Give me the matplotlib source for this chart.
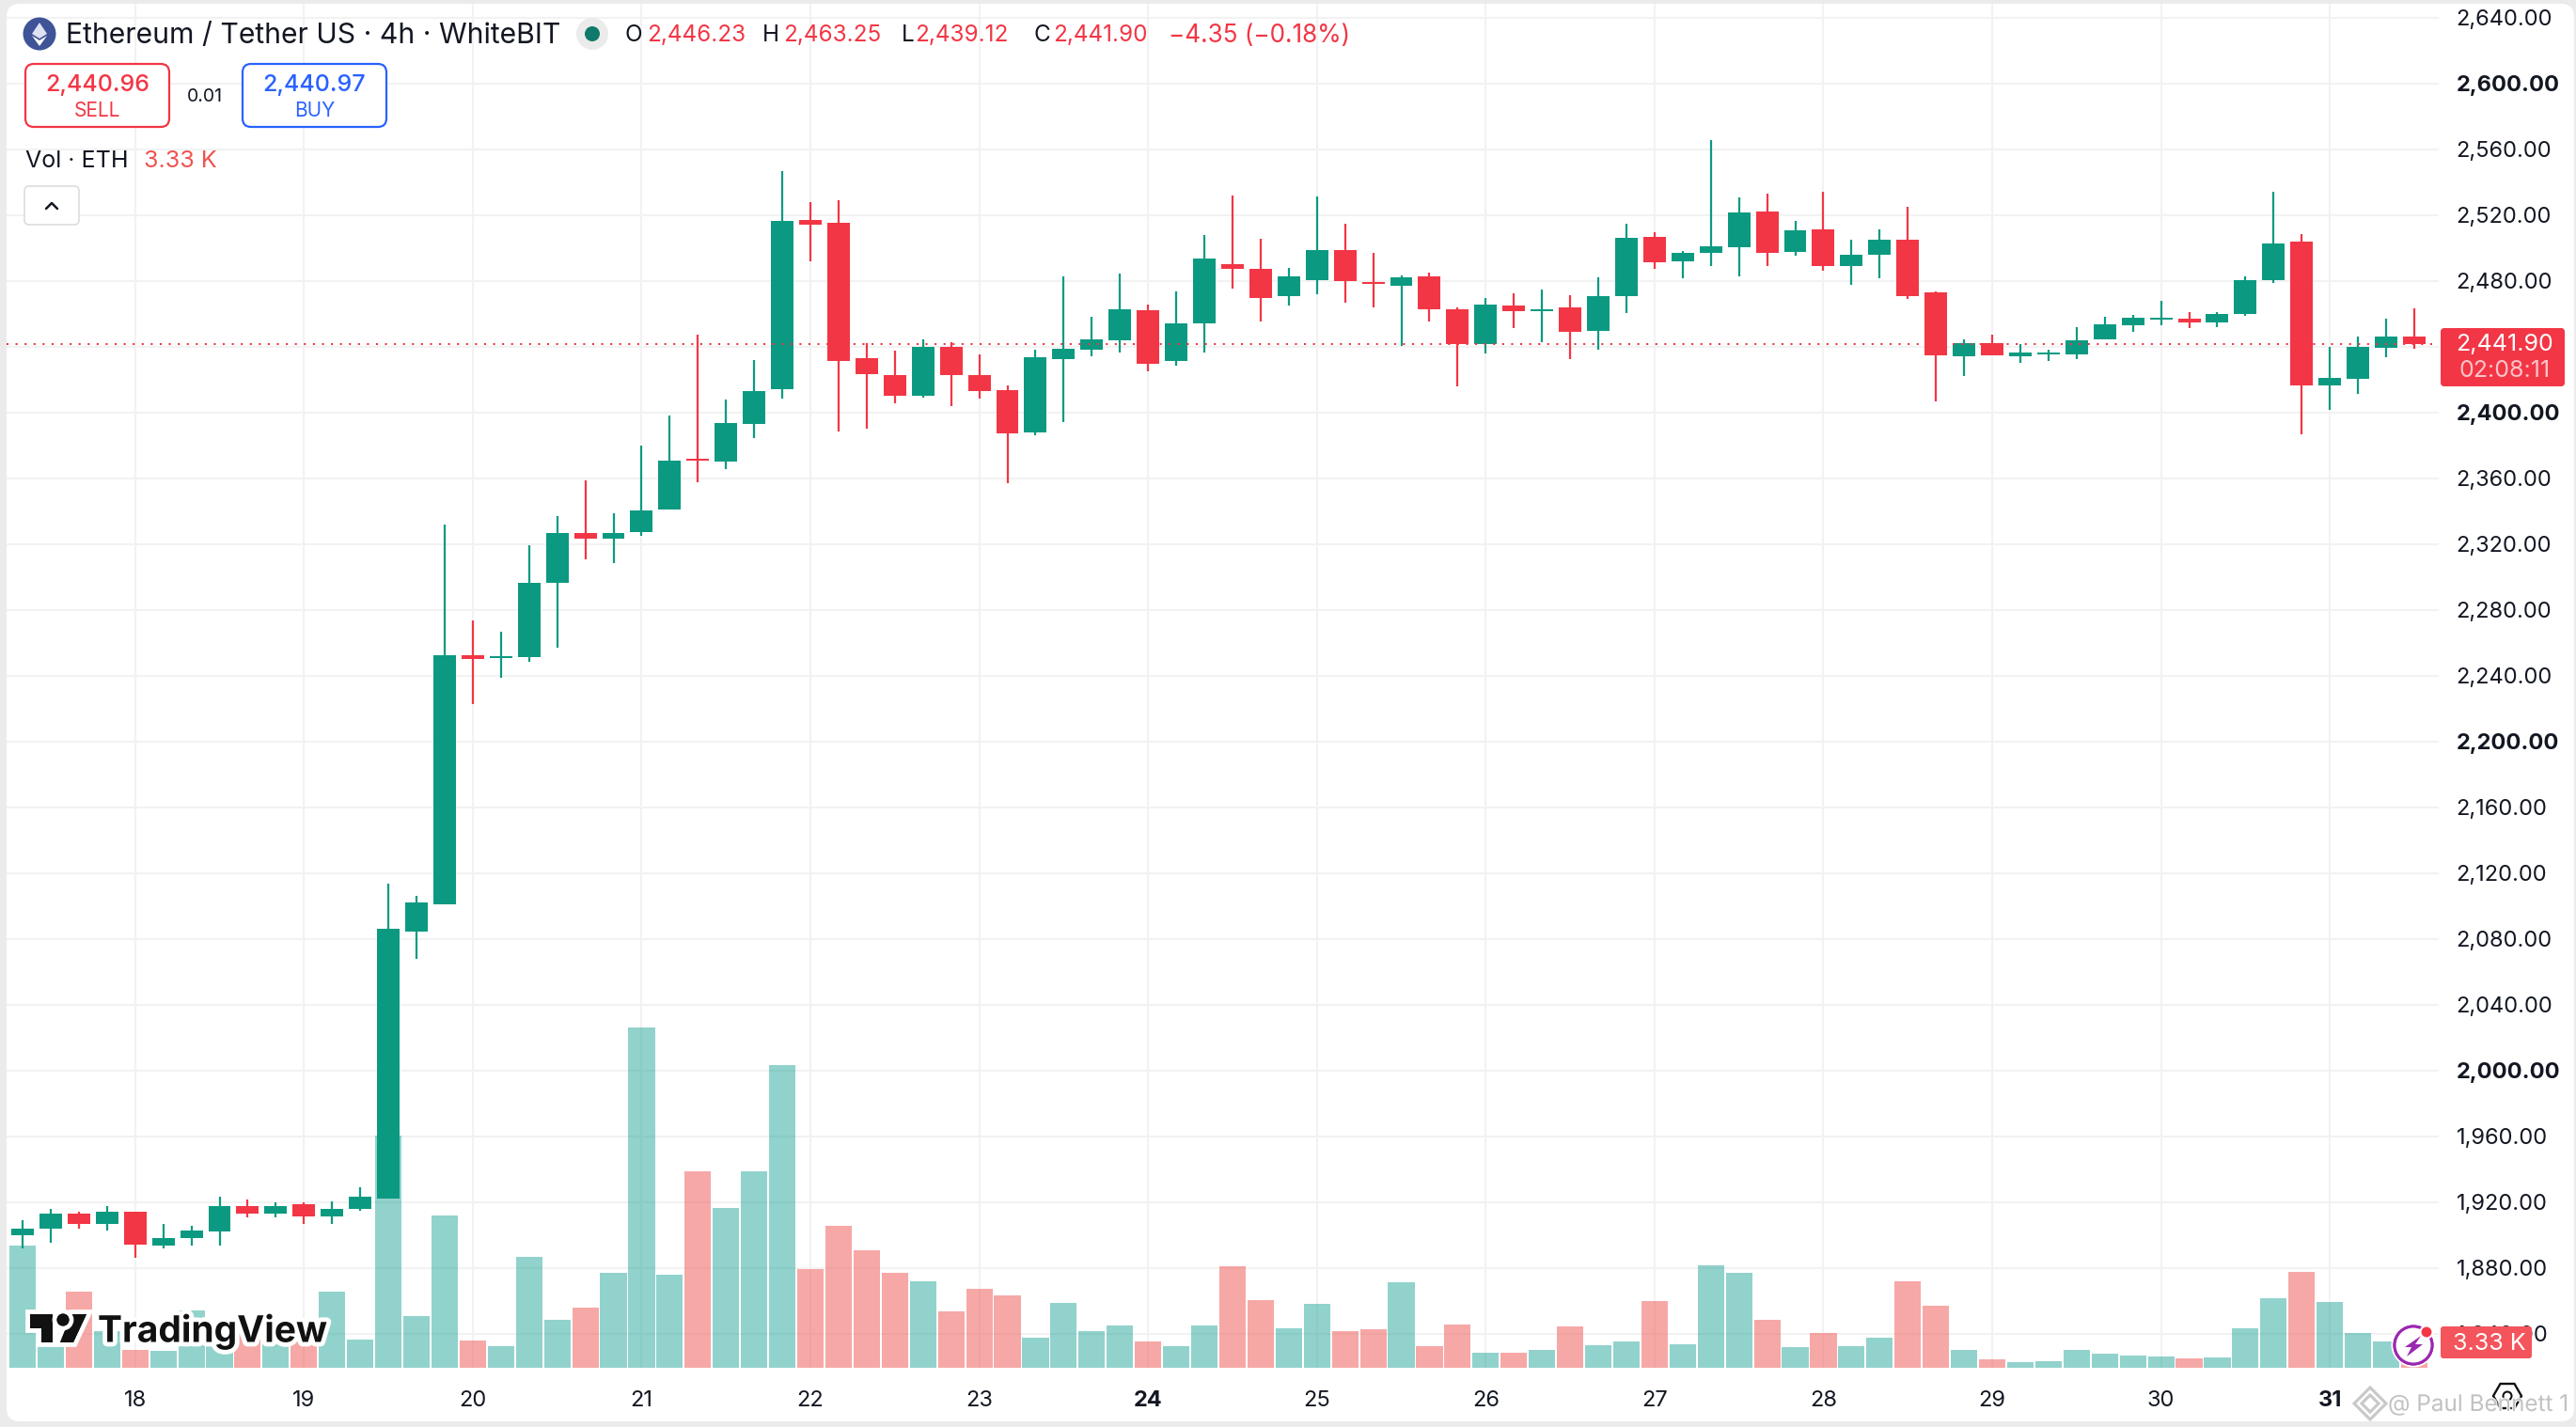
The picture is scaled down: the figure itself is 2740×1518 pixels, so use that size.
import numpy as np
import matplotlib
matplotlib.use("Agg")
import matplotlib.pyplot as plt
import matplotlib.patheffects as pe
from matplotlib.patches import Circle, FancyBboxPatch, Polygon, RegularPolygon

plt.rcParams["font.family"] = ["Inter", "DejaVu Sans"]

# 4h candles, left to right
opens = [1900.2, 1903.7, 1913.3, 1907.0, 1914.0, 1893.9, 1898.0, 1902.4, 1917.9, 1912.9, 1918.6, 1911.6, 1915.7, 1922.5,
         2084.8, 2101.4, 2252.6, 2250.9, 2251.4, 2296.6, 2326.9, 2323.4, 2327.4, 2341.1, 2372.0, 2370.3, 2393.1, 2414.3,
         2517.1, 2515.4, 2433.1, 2422.9, 2410.3, 2440.0, 2422.9, 2413.7, 2388.0, 2432.6, 2438.3, 2444.0, 2462.3, 2431.4,
         2454.3, 2490.3, 2487.4, 2470.9, 2480.6, 2498.9, 2479.4, 2477.1, 2482.9, 2462.9, 2441.7, 2465.1, 2461.7, 2464.0,
         2449.7, 2470.9, 2506.9, 2492.0, 2497.1, 2500.6, 2522.3, 2497.7, 2511.4, 2489.1, 2496.0, 2505.1, 2473.1, 2434.3,
         2442.3, 2434.3, 2435.4, 2435.4, 2444.6, 2453.1, 2456.6, 2457.1, 2454.9, 2460.0, 2480.6, 2504.0, 2416.6, 2420.6,
         2439.4, 2446.23]
closes = [1903.7, 1913.3, 1907.0, 1914.0, 1894.5, 1898.5, 1903.1, 1917.9, 1912.9, 1917.9, 1911.6, 1916.2, 1923.2, 2086.5,
          2102.5, 2252.6, 2250.3, 2252.0, 2296.6, 2326.9, 2323.4, 2326.9, 2340.6, 2370.9, 2370.9, 2393.7, 2413.1, 2516.6,
          2514.3, 2431.4, 2423.4, 2410.3, 2440.0, 2422.9, 2413.1, 2387.4, 2433.7, 2438.9, 2444.6, 2462.9, 2429.7, 2454.3,
          2493.7, 2487.4, 2469.7, 2482.9, 2498.9, 2480.0, 2478.3, 2482.3, 2462.9, 2441.7, 2465.7, 2461.7, 2462.9, 2449.1,
          2470.9, 2506.3, 2491.4, 2497.1, 2501.1, 2521.7, 2497.1, 2510.9, 2489.1, 2496.0, 2505.1, 2470.9, 2434.9, 2442.3,
          2434.9, 2436.6, 2436.6, 2444.0, 2453.7, 2457.7, 2457.7, 2454.9, 2460.0, 2480.6, 2502.9, 2416.6, 2421.1, 2440.0,
          2446.3, 2441.90]
highs = [1909.4, 1915.7, 1914.2, 1917.9, 1914.4, 1907.0, 1905.9, 1923.2, 1921.9, 1919.9, 1919.7, 1920.8, 1929.3, 2113.9,
         2106.4, 2332.0, 2273.7, 2266.9, 2319.4, 2337.1, 2358.9, 2338.9, 2380.0, 2398.3, 2447.4, 2408.0, 2432.0, 2546.9,
         2528.0, 2529.1, 2442.3, 2437.7, 2444.6, 2442.9, 2435.4, 2416.6, 2438.3, 2482.9, 2458.3, 2484.6, 2465.7, 2473.7,
         2508.0, 2532.0, 2505.7, 2488.0, 2531.4, 2514.9, 2497.1, 2483.4, 2485.1, 2464.0, 2469.7, 2472.6, 2474.9, 2471.4,
         2482.3, 2514.9, 2509.7, 2498.3, 2565.7, 2530.9, 2533.1, 2516.6, 2534.3, 2505.1, 2511.4, 2525.1, 2473.7, 2444.6,
         2447.4, 2441.7, 2438.3, 2452.0, 2458.3, 2459.4, 2468.0, 2461.1, 2461.1, 2482.9, 2534.3, 2508.6, 2440.0, 2446.3,
         2457.1, 2463.25]
lows = [1891.9, 1895.6, 1904.2, 1903.1, 1886.0, 1891.7, 1893.9, 1893.9, 1911.1, 1911.1, 1906.6, 1906.6, 1915.1, 1922.5,
        2067.7, 2101.4, 2222.9, 2238.9, 2248.6, 2257.1, 2310.9, 2308.6, 2325.1, 2341.1, 2357.7, 2365.7, 2384.6, 2408.6,
        2492.0, 2388.6, 2390.3, 2405.7, 2409.1, 2404.0, 2408.6, 2357.1, 2386.3, 2394.3, 2434.3, 2436.6, 2425.1, 2428.6,
        2436.6, 2475.4, 2455.4, 2465.1, 2472.0, 2466.9, 2464.0, 2440.6, 2455.4, 2416.0, 2436.0, 2451.4, 2442.9, 2432.6,
        2438.3, 2460.6, 2487.4, 2481.7, 2489.1, 2482.9, 2489.1, 2495.4, 2486.3, 2477.7, 2481.7, 2469.1, 2406.9, 2422.3,
        2434.9, 2430.3, 2431.4, 2432.6, 2444.6, 2449.1, 2453.1, 2451.4, 2452.0, 2458.9, 2478.9, 2386.9, 2401.7, 2411.4,
        2433.7, 2439.12]
# volume in thousands of ETH
volumes = [16.05, 2.84, 10.0, 4.81, 2.35, 2.22, 7.53, 4.73, 6.17, 3.5, 3.91, 10.0, 3.7, 30.5, 6.79, 20.0, 3.58, 2.84,
           14.57, 6.3, 7.9, 12.47, 44.69, 12.22, 25.8, 20.99, 25.8, 39.75, 12.96, 18.64, 15.43, 12.47, 11.36, 7.41,
           10.37, 9.51, 3.95, 8.52, 4.81, 5.56, 3.46, 2.84, 5.56, 13.33, 8.89, 5.19, 8.4, 4.81, 5.06, 11.23, 2.84,
           5.68, 1.98, 1.98, 2.35, 5.43, 2.96, 3.46, 8.77, 3.09, 13.46, 12.47, 6.3, 2.72, 4.57, 2.84, 3.95, 11.36,
           8.15, 2.35, 1.11, 0.74, 0.86, 2.35, 1.85, 1.6, 1.48, 1.23, 1.36, 5.19, 9.14, 12.59, 8.64, 4.57, 3.46, 3.33]

day_labels = ["18", "19", "20", "21", "22", "23", "24", "25", "26", "27", "28", "29", "30", "31"]
day_candles = [4, 10, 16, 22, 28, 34, 40, 46, 52, 58, 64, 70, 76, 82]
bold_days = ["24", "31"]

price_ticks = list(range(1840, 2641, 40))
bold_prices = [2000, 2200, 2400, 2600]
hidden_prices = [2440]  # sits behind the last price tag
last_price = 2441.90

GREEN = "#0B9A81"
RED = "#F23645"
VOL_GREEN = "#26A69A"
VOL_RED = "#EF5350"
GRID = "#F2F2F2"
TEXT = "#131722"

W, H = 2740, 1518
fig = plt.figure(figsize=(W / 100, H / 100), dpi=100, facecolor="#EBEBEB")


def full_axes(z):
    a = fig.add_axes([0, 0, 1, 1], zorder=z)
    a.set_xlim(0, W)
    a.set_ylim(H, 0)
    a.axis("off")
    return a


bg = full_axes(0)
bg.add_patch(FancyBboxPatch((15, 12), 2715, 1492, boxstyle="round,pad=8,rounding_size=14", fc="white", ec="none"))

# plot pane in pixels: x 7..2594, y 4..1455
rect = [7 / W, 1 - 1455 / H, (2594 - 7) / W, (1455 - 4) / H]
xlim = (-0.568, 85.87)
ylim = (1819.4, 2648.57)

ax = fig.add_axes(rect, zorder=1)
ax.patch.set_visible(False)
ax.set_xlim(xlim)
ax.set_ylim(ylim)
ax.set_xticks(day_candles)
ax.set_xticklabels(day_labels, fontsize=17, color=TEXT)
ax.set_yticks(price_ticks)
ax.set_yticklabels(["" if p in hidden_prices else f"{p:,.2f}" for p in price_ticks], fontsize=17, color=TEXT)
ax.yaxis.tick_right()
ax.tick_params(axis="both", length=0)
ax.tick_params(axis="y", pad=13.5)
ax.tick_params(axis="x", pad=17)
for lab in ax.get_xticklabels():
    if lab.get_text() in bold_days:
        lab.set_fontweight("bold")
for lab, p in zip(ax.get_yticklabels(), price_ticks):
    if p in bold_prices:
        lab.set_fontweight("bold")
ax.grid(True, color=GRID, linewidth=1.5)
ax.set_axisbelow(True)
for s in ax.spines.values():
    s.set_visible(False)

x = np.arange(len(closes))
ups = np.array(closes) >= np.array(opens)

ax_vol = fig.add_axes(rect, zorder=2)
ax_vol.patch.set_visible(False)
ax_vol.set_xlim(xlim)
ax_vol.set_ylim(0, 1451 / 8.1)
ax_vol.axis("off")
ax_vol.bar(x, volumes, width=0.94, color=[VOL_GREEN if u else VOL_RED for u in ups], alpha=0.5, linewidth=0)

ax_c = fig.add_axes(rect, zorder=3)
ax_c.patch.set_visible(False)
ax_c.set_xlim(xlim)
ax_c.set_ylim(ylim)
ax_c.axis("off")
colors = [GREEN if u else RED for u in ups]
ax_c.vlines(x, lows, highs, colors=colors, linewidth=1.6)
body_low = np.minimum(opens, closes)
body_h = np.abs(np.array(closes) - np.array(opens))
ax_c.bar(x, body_h, bottom=body_low, width=0.8, color=colors, linewidth=0)
ax_c.axhline(last_price, color=RED, linewidth=1.5, linestyle=(0, (1, 3.6)))

# overlays drawn in figure pixels
ov = full_axes(10)


def label(px, py, s, **kw):
    kw.setdefault("va", "center")
    kw.setdefault("color", TEXT)
    kw.setdefault("fontsize", 17)
    return ov.text(px, py + 3, s, **kw)


# symbol icon and title
ov.add_patch(Circle((42, 36), 17.5, fc="#3F5497", ec="none"))
ov.add_patch(Polygon([(42, 24), (50, 36), (42, 41), (34, 36)], fc="#DDE3F2", ec="none"))
ov.add_patch(Polygon([(34, 38), (42, 43), (50, 38), (42, 49)], fc="#FFFFFF", ec="none"))
label(70, 35, "Ethereum / Tether US · 4h · WhiteBIT", fontsize=21.7)
ov.add_patch(Circle((630, 36), 17, fc="#EBEBEB", ec="none"))
ov.add_patch(Circle((630, 36), 8, fc="#0F7A6B", ec="none"))

for px, s in [(665, "O"), (811, "H"), (959, "L"), (1100, "C")]:
    label(px, 35, s, fontsize=17.5)
for px, s in [(688, "2,446.23"), (833, "2,463.25"), (973, "2,439.12"), (1120, "2,441.90")]:
    label(px, 35, s, fontsize=17.5, color=RED)
label(1243, 35, "−4.35 (−0.18%)", fontsize=18.8, color=RED)

# sell / buy boxes
for x0, x1, c, price, word in [(27, 180, RED, "2,440.96", "SELL"), (258, 411, "#2962FF", "2,440.97", "BUY")]:
    ov.add_patch(FancyBboxPatch((x0 + 8, 76), x1 - x0 - 16, 51, boxstyle="round,pad=8,rounding_size=9",
                                fc="white", ec=c, lw=1.6))
    label((x0 + x1) / 2, 88, price, ha="center", color=c, fontsize=18, fontweight="medium")
    label((x0 + x1) / 2, 114.5, word, ha="center", color=c, fontsize=15)
label(218, 100, "0.01", ha="center", fontsize=14)

label(27, 168, "Vol · ETH", fontsize=18)
label(153, 168, "3.33 K", fontsize=18, color=VOL_RED)

ov.add_patch(FancyBboxPatch((32, 204), 46, 29, boxstyle="round,pad=6,rounding_size=5", fc="white", ec="#DDDDDD", lw=1.2))
ov.plot([49, 55, 61], [222, 216, 222], color=TEXT, lw=1.8, solid_capstyle="round")

# TradingView mark
halo = [pe.withStroke(linewidth=7, foreground="white")]
for poly in ([(32, 1398), (56, 1398), (56, 1428), (44, 1428), (44, 1413), (32, 1413)],
             [(76, 1398), (92, 1398), (78, 1428), (64, 1428)]):
    p = Polygon(poly, fc="#111111", ec="none")
    p.set_path_effects(halo + [pe.Normal()])
    ov.add_patch(p)
dot = Circle((67, 1404), 6.5, fc="#111111", ec="none")
dot.set_path_effects(halo + [pe.Normal()])
ov.add_patch(dot)
label(104, 1413, "TradingView", fontsize=28, fontweight="bold", color="#111111", path_effects=halo)

# last price and volume tags on the scale
ov.add_patch(FancyBboxPatch((2600, 353), 124, 54, boxstyle="round,pad=4,rounding_size=4", fc=RED, ec="none"))
label(2664.5, 363.5, "2,441.90", ha="center", color="white", fontsize=18)
label(2664.5, 391.5, "02:08:11", ha="center", color="#FBC4C9", fontsize=18)
ov.add_patch(FancyBboxPatch((2599, 1414), 91, 28, boxstyle="round,pad=3,rounding_size=3", fc="#F4545B", ec="none"))
label(2648, 1426, "3.33 K", ha="center", color="white", fontsize=18)

# lightning button
ring = Circle((2567, 1431), 20, fc="white", ec="#9C27B0", lw=2.2)
ring.set_path_effects([pe.withStroke(linewidth=5, foreground="white"), pe.Normal()])
ov.add_patch(ring)
ov.add_patch(Polygon([(2575, 1421), (2558, 1433), (2565, 1433), (2560, 1443), (2577, 1430), (2569, 1430)],
                     fc="#9C27B0", ec="none"))
ov.add_patch(Circle((2581, 1417), 6.5, fc=RED, ec="white", lw=1.5))

# settings icon
ov.add_patch(RegularPolygon((2667, 1485), 6, radius=15, orientation=np.pi / 6, fc="none", ec="#111111", lw=1.7))
ov.add_patch(Circle((2667, 1485), 4.5, fc="none", ec="#111111", lw=1.5))

# watermark over the corner
wm = [pe.withStroke(linewidth=1.6, foreground="#FFFFFFB0")]
for r in (17, 9):
    d = RegularPolygon((2521, 1493), 4, radius=r, fc="none", ec="#C9C9C9", lw=2)
    d.set_path_effects(wm + [pe.Normal()])
    ov.add_patch(d)
label(2540, 1491.5, "@ Paul Bennett 1", fontsize=17.5, color="#BDBDBD", alpha=0.9, path_effects=wm)

fig.savefig("out.png", dpi=100, facecolor=fig.get_facecolor())
